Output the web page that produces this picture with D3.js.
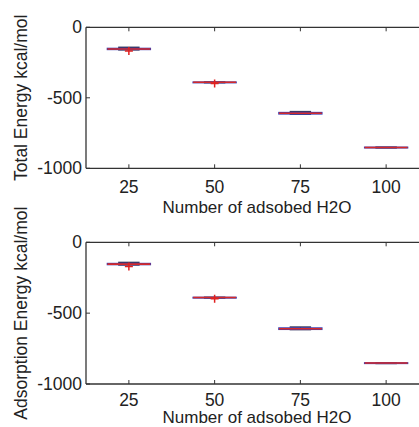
<!DOCTYPE html>
<html><head><meta charset="utf-8">
<script src="https://cdn.jsdelivr.net/npm/d3@7"></script>
<style>html,body{margin:0;padding:0;background:#fff;overflow:hidden}svg{display:block}text{font-family:"Liberation Sans",Arial,sans-serif;fill:#222}</style>
</head><body><div id="c"></div>
<script>
const categories = ["25","50","75","100"];
const yTicks = [0,-500,-1000];
const xLabel = "Number of adsobed H2O";
// Total energy boxplot stats (kcal/mol)
const totalLowWhisker = [-160,-393,-616,-855];
const totalQ1 = [-157,-392,-614,-853];
const totalMedian = [-154,-390,-610,-852];
const totalQ3 = [-150,-389,-605,-851];
const totalHighWhisker = [-142,-388,-598,-850];
const totalOutliers = [[-168],[-398],[],[]];
// Adsorption energy boxplot stats (kcal/mol)
const adsLowWhisker = [-160,-393,-616,-855];
const adsQ1 = [-157,-392,-614,-853];
const adsMedian = [-154,-390,-610,-852];
const adsQ3 = [-150,-389,-605,-851];
const adsHighWhisker = [-142,-388,-598,-850];
const adsOutliers = [[-170],[-398],[],[]];

const W=419,H=427;
const svg=d3.select("#c").append("svg").attr("width",W).attr("height",H);

function panel(top,bottom,yLabel,lw,q1,med,q3,hw,outl,tickOffset,xLabelOffset){
  const x=d3.scaleBand().domain(categories).range([86,429]).padding(0);
  const y=d3.scaleLinear().domain([-1000,0]).range([bottom,top]);
  const g=svg.append("g");
  const bw=x.bandwidth()*0.5;
  const cx=c=>x(c)+x.bandwidth()/2;
  categories.forEach((c,i)=>{
    const xc=cx(c);
    g.append("line").attr("x1",xc).attr("x2",xc).attr("y1",y(hw[i])).attr("y2",y(q3[i])).attr("stroke","#000").attr("stroke-dasharray","3,2");
    g.append("line").attr("x1",xc).attr("x2",xc).attr("y1",y(lw[i])).attr("y2",y(q1[i])).attr("stroke","#000").attr("stroke-dasharray","3,2");
    [hw[i],lw[i]].forEach(v=>g.append("line").attr("x1",xc-bw/4).attr("x2",xc+bw/4).attr("y1",y(v)).attr("y2",y(v)).attr("stroke","#3a3a5a").attr("stroke-width",1.5));
    g.append("rect").attr("x",xc-bw/2).attr("width",bw).attr("y",y(q3[i])).attr("height",Math.max(0.5,y(q1[i])-y(q3[i]))).attr("fill","none").attr("stroke","#3b3bb0").attr("stroke-width",1.5);
    g.append("line").attr("x1",xc-bw/2).attr("x2",xc+bw/2).attr("y1",y(med[i])).attr("y2",y(med[i])).attr("stroke","#d42a2a").attr("stroke-width",1.6);
    outl[i].forEach(v=>{
      g.append("path").attr("d",`M${xc-4},${y(v)}H${xc+4}M${xc},${y(v)-4}V${y(v)+4}`).attr("stroke","#e02020").attr("stroke-width",1.5);
    });
  });
  const ax="#333";
  g.append("line").attr("x1",86).attr("x2",429).attr("y1",top).attr("y2",top).attr("stroke",ax).attr("stroke-width",1.3);
  g.append("line").attr("x1",86).attr("x2",429).attr("y1",bottom).attr("y2",bottom).attr("stroke",ax).attr("stroke-width",1.3);
  g.append("line").attr("x1",86).attr("x2",86).attr("y1",top).attr("y2",bottom).attr("stroke",ax).attr("stroke-width",1.3);
  yTicks.forEach(t=>{
    g.append("line").attr("x1",86).attr("x2",90).attr("y1",y(t)).attr("y2",y(t)).attr("stroke",ax);
    g.append("text").attr("x",82).attr("y",y(t)).attr("dy","0.35em").attr("text-anchor","end").style("font-size","17.5px").text(t);
  });
  categories.forEach(c=>{
    const xc=cx(c);
    g.append("line").attr("x1",xc).attr("x2",xc).attr("y1",bottom).attr("y2",bottom-4).attr("stroke",ax);
    g.append("line").attr("x1",xc).attr("x2",xc).attr("y1",top).attr("y2",top+4).attr("stroke",ax);
    g.append("text").attr("x",xc).attr("y",bottom+tickOffset).attr("text-anchor","middle").style("font-size","17.5px").text(c);
  });
  g.append("text").attr("x",257).attr("y",bottom+xLabelOffset).attr("text-anchor","middle").style("font-size","17px").text(xLabel);
  g.append("text").attr("transform",`translate(27,${(top+bottom)/2}) rotate(-90)`).attr("text-anchor","middle").style("font-size","17.5px").text(yLabel);
}
panel(27.3,168.3,"Total Energy kcal/mol",totalLowWhisker,totalQ1,totalMedian,totalQ3,totalHighWhisker,totalOutliers,24.5,45);
panel(242.3,384,"Adsorption Energy kcal/mol",adsLowWhisker,adsQ1,adsMedian,adsQ3,adsHighWhisker,adsOutliers,21.5,39);
</script></body></html>
